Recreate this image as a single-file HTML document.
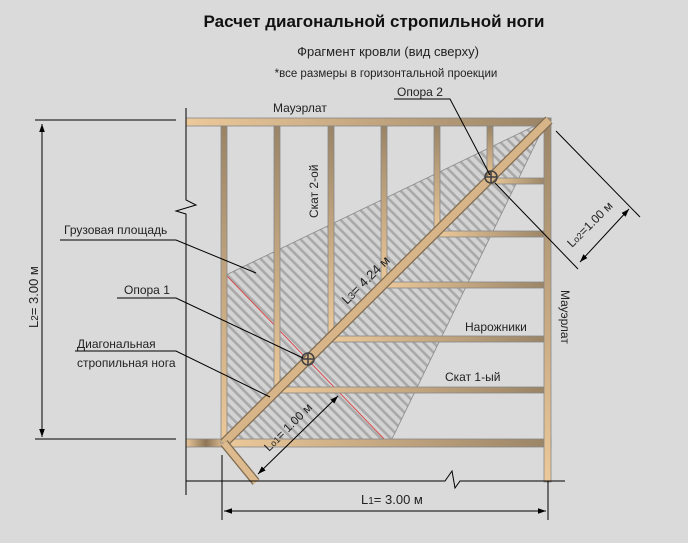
<!DOCTYPE html>
<html><head><meta charset="utf-8"><style>
html,body{margin:0;padding:0;background:#dadada;}
svg{display:block;font-family:"Liberation Sans","DejaVu Sans",sans-serif;}
</style></head><body>
<svg width="688" height="543" viewBox="0 0 688 543" xmlns="http://www.w3.org/2000/svg">
<defs>
<pattern id="h" patternUnits="userSpaceOnUse" width="7" height="7" patternTransform="rotate(-45)">
<rect width="7" height="7" fill="#d3d3d3"/><rect x="0" width="2.6" height="7" fill="#a9a9a9"/>
</pattern>
<linearGradient id="gv" x1="0" y1="0" x2="0" y2="1"><stop offset="0" stop-color="#9a8466"/><stop offset="1" stop-color="#ecc99a"/></linearGradient>
<linearGradient id="gh" x1="0" y1="0" x2="1" y2="0"><stop offset="0" stop-color="#ecc99a"/><stop offset="1" stop-color="#9a8466"/></linearGradient>
<linearGradient id="gb" x1="0" y1="0" x2="1" y2="0"><stop offset="0" stop-color="#e8c69a"/><stop offset="0.5" stop-color="#8d7556"/><stop offset="1" stop-color="#e8c69a"/></linearGradient>
<marker id="a" viewBox="0 0 10 10" refX="10" refY="5" markerWidth="8" markerHeight="8" orient="auto-start-reverse"><path d="M0,1.5 L10,5 L0,8.5 z" fill="#000"/></marker>
</defs>
<rect width="688" height="543" fill="#dadada"/>
<text x="374" y="27" text-anchor="middle" font-size="17" font-weight="bold" fill="#111">Расчет диагональной стропильной ноги</text>
<text x="388" y="56" text-anchor="middle" font-size="13" fill="#222">Фрагмент кровли (вид сверху)</text>
<text x="386" y="77" text-anchor="middle" font-size="11.5" fill="#222">*все размеры в горизонтальной проекции</text>

<polygon points="226,275 547,120 390,443 226,443" fill="url(#h)" stroke="#8a8a8a" stroke-width="0.8"/>
<line x1="226" y1="275" x2="388" y2="443" stroke="#e03030" stroke-width="0.8"/>

<rect x="186" y="118" width="365" height="8" fill="url(#gh)" stroke="#888" stroke-width="0.8"/>
<rect x="186" y="439" width="40" height="8" fill="url(#gb)" stroke="#888" stroke-width="0.8"/>
<rect x="224" y="439" width="327" height="8" fill="url(#gh)" stroke="#888" stroke-width="0.8"/>
<rect x="221" y="126" width="6" height="317" fill="url(#gv)" stroke="#888" stroke-width="0.8"/>
<rect x="274" y="126" width="6" height="266" fill="url(#gv)" stroke="#888" stroke-width="0.8"/>
<rect x="328" y="126" width="6" height="212" fill="url(#gv)" stroke="#888" stroke-width="0.8"/>
<rect x="381" y="126" width="6" height="159" fill="url(#gv)" stroke="#888" stroke-width="0.8"/>
<rect x="434" y="126" width="6" height="106" fill="url(#gv)" stroke="#888" stroke-width="0.8"/>
<rect x="487" y="126" width="6" height="54" fill="url(#gv)" stroke="#888" stroke-width="0.8"/>
<rect x="490" y="178" width="57" height="6" fill="url(#gh)" stroke="#888" stroke-width="0.8"/>
<rect x="437" y="231" width="110" height="6" fill="url(#gh)" stroke="#888" stroke-width="0.8"/>
<rect x="384" y="282" width="163" height="6" fill="url(#gh)" stroke="#888" stroke-width="0.8"/>
<rect x="331" y="336" width="216" height="6" fill="url(#gh)" stroke="#888" stroke-width="0.8"/>
<rect x="277" y="387" width="270" height="6" fill="url(#gh)" stroke="#888" stroke-width="0.8"/>
<rect x="544" y="118" width="7" height="364" fill="url(#gv)" stroke="#888" stroke-width="0.8"/>
<line x1="224" y1="443" x2="549" y2="120" stroke="#7f6c52" stroke-width="10"/>
<line x1="224" y1="443" x2="549" y2="120" stroke="#d8b588" stroke-width="7.5"/>
<line x1="224" y1="443" x2="256" y2="482" stroke="#7f6c52" stroke-width="9"/>
<line x1="224" y1="443" x2="256" y2="482" stroke="#ddbb8e" stroke-width="6.5"/>

<g fill="none" stroke="#444" stroke-width="1.6">
<circle cx="491" cy="177" r="6"/><line x1="485" y1="177" x2="497" y2="177"/><line x1="491" y1="171" x2="491" y2="183"/>
<circle cx="308" cy="359" r="6"/><line x1="302" y1="359" x2="314" y2="359"/><line x1="308" y1="353" x2="308" y2="365"/>
</g>

<g stroke="#000" stroke-width="1" fill="none">
<line x1="35" y1="120" x2="176" y2="120"/>
<line x1="35" y1="439" x2="176" y2="439"/>
<line x1="42" y1="124" x2="42" y2="437" marker-start="url(#a)" marker-end="url(#a)"/>
<polyline points="186,108 186,200 196,205 176,211 186,214 186,495"/>
<polyline points="186,481 445,481 452,471 455,488 460,481 565,481"/>
<line x1="222" y1="455" x2="222" y2="520"/>
<line x1="548" y1="481" x2="548" y2="520"/>
<line x1="224" y1="511" x2="546" y2="511" marker-start="url(#a)" marker-end="url(#a)"/>
<polyline points="60,240 176,240 256,273"/>
<polyline points="117,298 176,298 303,358"/>
<polyline points="75,351 176,351 270,397"/>
<polyline points="394,99 450,99 490,175"/>
<line x1="556" y1="131" x2="640" y2="217"/>
<line x1="495" y1="183" x2="578" y2="269"/>
<line x1="580" y1="262" x2="629" y2="209" marker-start="url(#a)" marker-end="url(#a)"/>
<line x1="258" y1="474" x2="338" y2="396" marker-start="url(#a)" marker-end="url(#a)"/>
</g>

<g font-size="12" fill="#222">
<text x="273" y="112">Мауэрлат</text>
<text x="397" y="96">Опора 2</text>
<text x="64" y="234">Грузовая площадь</text>
<text x="124" y="294">Опора 1</text>
<text x="77" y="348">Диагональная</text>
<text x="77" y="367">стропильная нога</text>
<text x="465" y="331">Нарожники</text>
<text x="445" y="381">Скат 1-ый</text>
<text x="361" y="504" font-size="13">L<tspan font-size="10">1</tspan>=  3.00 м</text>
<text transform="translate(318,218) rotate(-90)">Скат 2-ой</text>
<text transform="translate(561,290) rotate(90)">Мауэрлат</text>
<text transform="translate(38,328) rotate(-90)" font-size="13">L<tspan font-size="10">2</tspan>=  3.00 м</text>
<text transform="translate(347,305) rotate(-45)" font-size="13">L<tspan font-size="10">3</tspan>=  4.24 м</text>
<text transform="translate(269,452) rotate(-45)" font-size="12">L<tspan font-size="9">o1</tspan>= 1.00 м</text>
<text transform="translate(572,248) rotate(-45)" font-size="12">L<tspan font-size="9">o2</tspan>=1.00 м</text>
</g>
</svg>
</body></html>
